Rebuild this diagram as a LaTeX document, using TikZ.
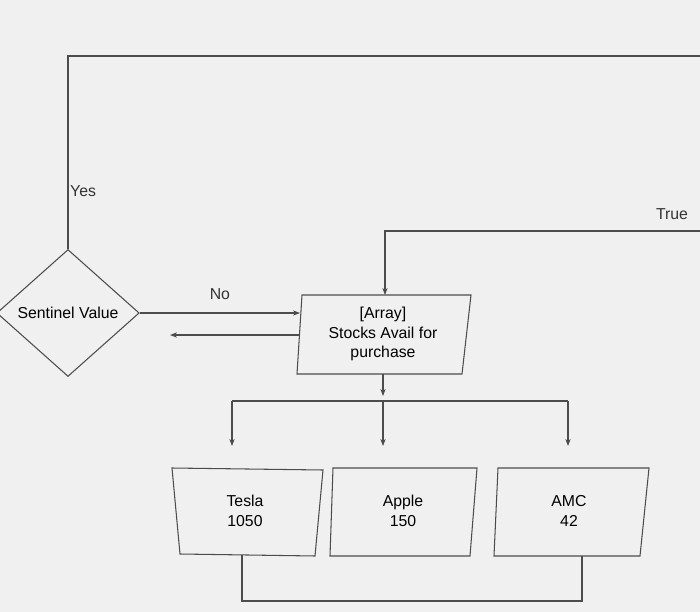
\documentclass[tikz,border=0pt]{standalone}
\usepackage{fontspec}
\setmainfont{Liberation Sans}
\usetikzlibrary{shapes.geometric,arrows.meta}
\begin{document}
\begin{tikzpicture}[x=0.02cm,y=-0.02cm,
  line/.style={draw=black!70,line width=0.6pt},
  arr/.style={line,-{Stealth[length=4pt]}},
  box/.style={line},
  txt/.style={align=center,font=\small,inner sep=1pt},
  lbl/.style={font=\small,text=black!80}]
\fill[gray!12] (0,0) rectangle (700,612);
\useasboundingbox (0,0) rectangle (700,612);
% decision
\node[diamond,draw=black!70,line width=0.6pt,inner sep=0pt,
  minimum width=2.85cm,minimum height=2.54cm,font=\small] (sentinel) at (68,313) {Sentinel Value};
% main box
\path[box] (302,295) -- (471,295) -- (462,374) -- (297,374) -- cycle;
\node[txt] (stocks) at (383,334) {[Array]\\Stocks Avail for\\purchase};
\coordinate (stocksN) at (385,295);
\coordinate (stocksW) at (300,313);
\coordinate (stocksS) at (383,374);
% item boxes
\path[box] (172,468) -- (323,470) -- (315,556) -- (180,554) -- cycle;
\path[box] (333,468) -- (477,468) -- (470,556) -- (330,556) -- cycle;
\path[box] (498,468) -- (649,468) -- (640,556) -- (494,556) -- cycle;
\node[txt] (tesla) at (245,511) {Tesla\\1050};
\node[txt] (apple) at (403,511) {Apple\\150};
\node[txt] (amc) at (569,511) {AMC\\42};
% loops
\coordinate (topright) at (700,56);
\coordinate (trueright) at (700,231);
\path[line] (sentinel.north) |- (topright);
\path[arr] (trueright) -| (stocksN);
\node[lbl,anchor=west] (yes) at (64,191) {Yes};
\node[lbl] (true) at (672,214) {True};
% sentinel and stocks
\path[arr] (sentinel.east) -- node[lbl,above=4pt]{No} (stocksW |- sentinel.east);
\coordinate (backfrom) at (300,335);
\coordinate (backto) at (170,335);
\path[arr] (backfrom) -- (backto);
% split to items
\path[arr] (stocksS) -- (383,396);
\path[line] (232,401) -- (568,401);
\foreach \x in {232,383,568} \path[arr] (\x,401) -- (\x,446);
% bottom link
\coordinate (lowA) at (242,601);
\coordinate (lowB) at (582,601);
\path[line] (242,555) -- (lowA) -- (lowB) -- (582,556);
\end{tikzpicture}
\end{document}
